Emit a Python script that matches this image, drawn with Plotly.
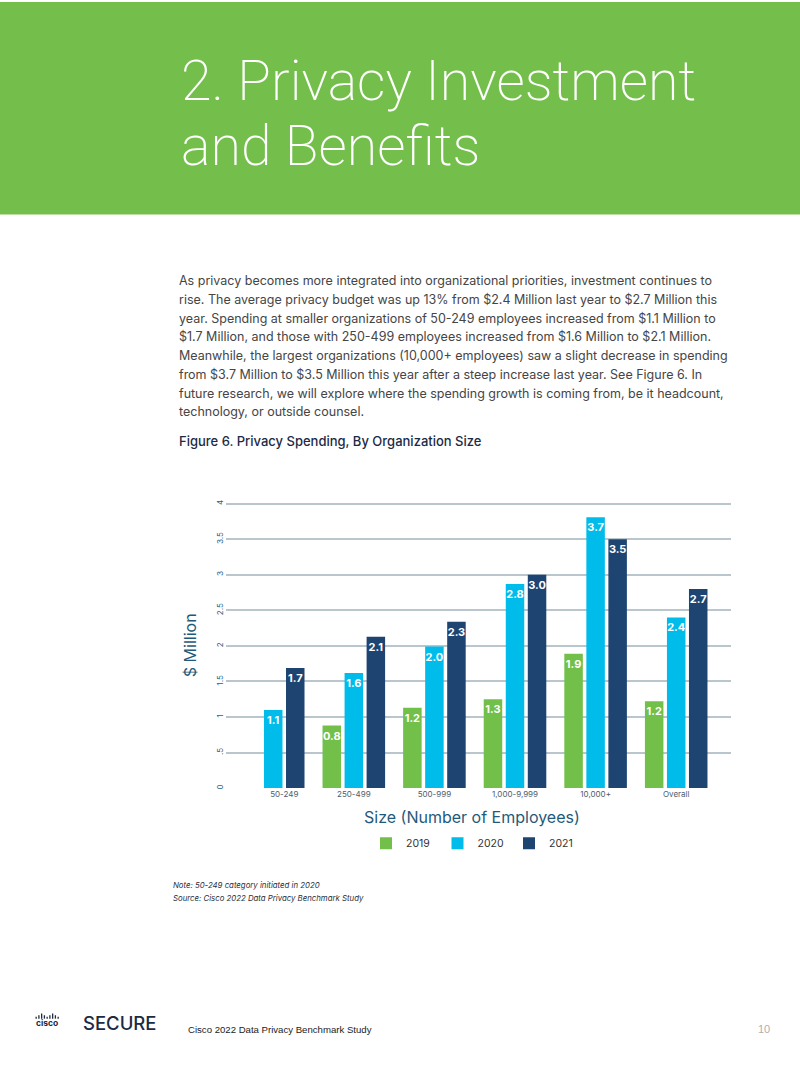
import plotly.graph_objects as go

# ---------------- data ----------------
categories = ["50-249", "250-499", "500-999", "1,000-9,999", "10,000+", "Overall"]
years = ["2019", "2020", "2021"]
values_2019 = [None, 0.88, 1.13, 1.25, 1.89, 1.22]
values_2020 = [1.10, 1.62, 1.99, 2.87, 3.81, 2.40]
values_2021 = [1.69, 2.13, 2.34, 3.00, 3.50, 2.80]
labels_2019 = ["", "0.8", "1.2", "1.3", "1.9", "1.2"]
labels_2020 = ["1.1", "1.6", "2.0", "2.8", "3.7", "2.4"]
labels_2021 = ["1.7", "2.1", "2.3", "3.0", "3.5", "2.7"]
y_tick_vals = [0, 0.5, 1, 1.5, 2, 2.5, 3, 3.5, 4]
y_tick_text = ["0", ".5", "1", "1.5", "2", "2.5", "3", "3.5", "4"]

title_lines = ["2. Privacy Investment", "and Benefits"]
body_lines = [
    "As privacy becomes more integrated into organizational priorities, investment continues to",
    "rise. The average privacy budget was up 13% from $2.4 Million last year to $2.7 Million this",
    "year. Spending at smaller organizations of 50-249 employees increased from $1.1 Million to",
    "$1.7 Million, and those with 250-499 employees increased from $1.6 Million to $2.1 Million.",
    "Meanwhile, the largest organizations (10,000+ employees) saw a slight decrease in spending",
    "from $3.7 Million to $3.5 Million this year after a steep increase last year. See Figure 6. In",
    "future research, we will explore where the spending growth is coming from, be it headcount,",
    "technology, or outside counsel.",
]
figure_title = "Figure 6. Privacy Spending, By Organization Size"
note_lines = ["Note: 50-249 category initiated in 2020",
              "Source: Cisco 2022 Data Privacy Benchmark Study"]
footer_text = "Cisco 2022 Data Privacy Benchmark Study"
page_number = "10"

# ---------------- style ----------------
W, H = 800, 1066
GREEN = "#72bf4a"
CYAN = "#00bceb"
NAVY = "#1e4471"
AXIS_BLUE = "#1f5a7a"
BODY_FONT = "Inter"

def px(x):
    return x / W

def py(y):
    return 1 - y / H

BARGAP = 0.18
x_idx = list(range(len(categories)))
slot = (1 - BARGAP) / 3
# tick for groups lacking the first series sits under the bars that exist
tick_vals = [i + (slot / 2 if values_2019[i] is None else 0) for i in x_idx]

fig = go.Figure()
series = [(years[0], values_2019, labels_2019, GREEN),
          (years[1], values_2020, labels_2020, CYAN),
          (years[2], values_2021, labels_2021, NAVY)]
for name, vals, labs, col in series:
    fig.add_trace(go.Bar(
        name=name, x=x_idx, y=vals, text=labs,
        marker=dict(color=col, line=dict(width=0)),
        textposition="inside", insidetextanchor="end", textangle=0,
        textfont=dict(color="white", size=11, family="Inter", weight="bold"),
        hoverinfo="skip",
    ))

fig.update_layout(
    width=W, height=H,
    margin=dict(l=0, r=0, t=0, b=0),
    paper_bgcolor="white", plot_bgcolor="white",
    barmode="group", bargap=BARGAP, bargroupgap=0.16,
    uniformtext=dict(minsize=11, mode="show"),
    showlegend=True,
    legend=dict(orientation="h", x=px(366), y=py(843.5), xanchor="left", yanchor="middle",
                font=dict(size=10.5, color="#333333", family=BODY_FONT),
                entrywidth=26.5, entrywidthmode="pixels", traceorder="normal",
                bgcolor="rgba(0,0,0,0)"),
    xaxis=dict(domain=[px(226), px(731)], range=[-0.586, 5.68],
               tickmode="array", tickvals=tick_vals, ticktext=categories,
               tickfont=dict(size=8, color="#4d5d6c", family=BODY_FONT),
               showgrid=False, zeroline=False, showline=False, ticks="", ticklen=0,
               fixedrange=True),
    yaxis=dict(domain=[py(788.3), py(501.7)], range=[0, 4.02],
               tickmode="array", tickvals=y_tick_vals, ticktext=y_tick_text,
               tickangle=-90,
               tickfont=dict(size=8, color="#2d6080", family=BODY_FONT),
               showgrid=True, gridcolor="#b9c6ce", gridwidth=1.6,
               zeroline=False, showline=False, ticks="", fixedrange=True),
)

# header band
fig.add_shape(type="rect", xref="paper", yref="paper", x0=0, x1=1, y0=py(213), y1=1,
              fillcolor="#74bf4b", line=dict(width=0), layer="below")

ann = []
title_y = [80, 145]
for line, yy in zip(title_lines, title_y):
    ann.append(dict(text=line, x=px(179), y=py(yy), xanchor="left", yanchor="middle",
                    font=dict(size=55.5, color="white", family="Roboto", weight=200)))

body_y0, body_dy = 279.5, 18.8
for i, line in enumerate(body_lines):
    ann.append(dict(text=line, x=px(177), y=py(body_y0 + i * body_dy), xanchor="left",
                    yanchor="middle",
                    font=dict(size=12.5, color="#454545", family=BODY_FONT)))

ann.append(dict(text=figure_title, x=px(177), y=py(440.5), xanchor="left", yanchor="middle",
                font=dict(size=13, color="#1c2a44", family=BODY_FONT, weight=500)))

ann.append(dict(text="$ Million", x=px(190), y=py(645), xanchor="center", yanchor="middle",
                textangle=-90, font=dict(size=16, color=AXIS_BLUE, family=BODY_FONT)))
ann.append(dict(text="Size (Number of Employees)", x=px(471.5), y=py(817.5), xanchor="center",
                yanchor="middle", font=dict(size=16, color=AXIS_BLUE, family=BODY_FONT)))

for line, yy in zip(note_lines, [885, 899]):
    ann.append(dict(text="<i>" + line + "</i>", x=px(171), y=py(yy), xanchor="left",
                    yanchor="middle", font=dict(size=7.8, color="#2b2f3a", family=BODY_FONT)))

# footer
ann.append(dict(text="cisco", x=px(46.5), y=py(1024), xanchor="center", yanchor="middle",
                font=dict(size=8.5, color="#1c2a44", family=BODY_FONT, weight=700)))
ann.append(dict(text="SECURE", x=px(81), y=py(1024), xanchor="left", yanchor="middle",
                font=dict(size=18.5, color="#1c2a44", family=BODY_FONT, weight=500)))
ann.append(dict(text=footer_text, x=px(186), y=py(1030), xanchor="left", yanchor="middle",
                font=dict(size=9.6, color="#222222", family="Liberation Sans")))
ann.append(dict(text=page_number, x=px(772), y=py(1030), xanchor="right", yanchor="middle",
                font=dict(size=11, color="#b0b0b0", family="Liberation Sans")))

for a in ann:
    a.update(xref="paper", yref="paper", showarrow=False)
fig.update_layout(annotations=ann)

# cisco logo bars (decorative)
logo_heights = [2, 3.4, 5.2, 3.4, 2, 3.4, 5.2, 3.4, 2]
for i, h in enumerate(logo_heights):
    x0 = 35.5 + i * 2.75
    fig.add_shape(type="rect", xref="paper", yref="paper",
                  x0=px(x0), x1=px(x0 + 1.3), y0=py(1019.5), y1=py(1019.5 - h),
                  fillcolor="#1c2a44", line=dict(width=0))

fig.write_html("out.html", config={"displayModeBar": False},
               post_script="document.body.style.margin='0';document.body.style.overflow='hidden';")
